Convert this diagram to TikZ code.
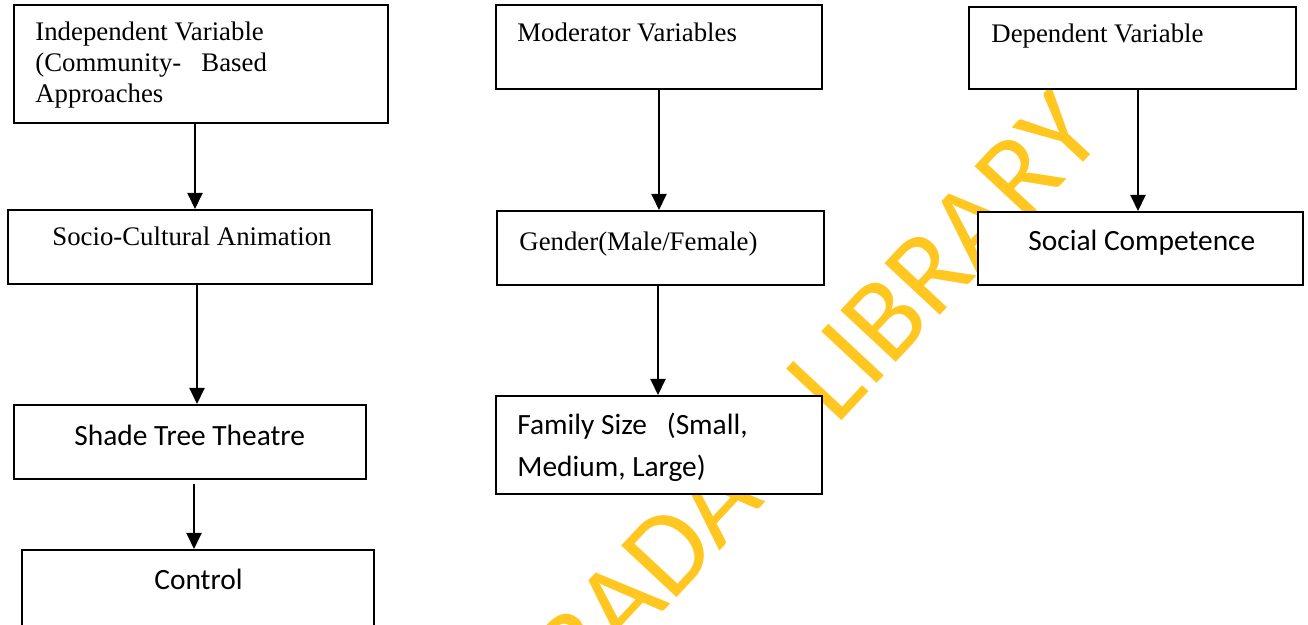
\documentclass[tikz,border=0pt]{standalone}
\usepackage{fontspec}
\setmainfont{Liberation Serif}
\newfontfamily\calibri{Carlito}
\usetikzlibrary{arrows.meta}
\definecolor{wmyellow}{HTML}{FFC720}
\tikzset{
  varbox/.style={draw, fill=white, line width=1pt, inner sep=0pt},
  serif/.style={anchor=base west, inner sep=0pt, align=left,
    font=\fontsize{13.4}{15.5}\selectfont},
  calib/.style={anchor=base west, inner sep=0pt, align=left,
    font=\calibri\fontsize{14.7}{21}\selectfont},
  arr/.style={line width=1pt, -{Triangle[width=7.5pt,length=8pt]}},
  wmark/.style={anchor=base west, inner sep=0pt, rotate=47, text=wmyellow,
    font=\calibri\fontsize{59}{59}\selectfont}
}
\begin{document}
\begin{tikzpicture}[x=0.5pt, y=-0.5pt]
    \clip (0,0) rectangle (1308,625);

    % Filigrane
    \node[wmark] (wm) at (836,427) {\llap{IBADAN }LIBRARY};

    % Colonne 1 : variable independante
    \node[varbox, minimum width=187pt, minimum height=59pt] (iv) at (201,64) {};
    \node[serif] (iv-t) at (35,103) {Independent Variable\\(Community-~~~Based\\Approaches};
    \node[varbox, minimum width=182pt, minimum height=37pt] (sca) at (190,247) {};
    \node[serif] (sca-t) at (52,246) {Socio-Cultural Animation};
    \node[varbox, minimum width=176pt, minimum height=37pt] (stt) at (190,442) {};
    \node[calib] (stt-t) at (74,446) {Shade Tree Theatre};
    \node[varbox, minimum width=176pt, minimum height=55pt] (ctrl) at (198,605) {};
    \node[calib] (ctrl-t) at (154,590) {Control};

    % Colonne 2 : moderateurs
    \node[varbox, minimum width=163pt, minimum height=42pt] (mod) at (659,47) {};
    \node[serif] (mod-t) at (517,42) {Moderator Variables};
    \node[varbox, minimum width=163.5pt, minimum height=37pt] (gen) at (660.5,248) {};
    \node[serif] (gen-t) at (519,251) {Gender(Male/Female)};
    \node[varbox, minimum width=163pt, minimum height=49pt] (fam) at (659,445) {};
    \node[calib] (fam-t) at (517,477) {Family Size~~~(Small,\\Medium, Large)};

    % Colonne 3 : variable dependante
    \node[varbox, minimum width=163.5pt, minimum height=41pt] (dep) at (1132.5,48) {};
    \node[serif] (dep-t) at (991,43) {Dependent Variable};
    \node[varbox, minimum width=162.5pt, minimum height=36.5pt] (soc) at (1140.5,248.5) {};
    \node[calib] (soc-t) at (1028,251) {Social Competence};

    % Fleches
    \draw[arr] ([xshift=-3pt]iv.south) -- ([xshift=-3pt]iv.south |- sca.north);
    \draw[arr] ([xshift=3.5pt]sca.south) -- ([xshift=3.5pt]sca.south |- stt.north);
    \draw[arr] ([xshift=2pt,yshift=-2pt]stt.south) -- ([xshift=2pt]stt.south |- ctrl.north);
    \draw[arr] (mod.south) -- (mod.south |- gen.north);
    \draw[arr] ([xshift=-1.25pt]gen.south) -- ([xshift=-1.25pt]gen.south |- fam.north);
    \draw[arr] ([xshift=2.75pt]dep.south) -- ([xshift=2.75pt]dep.south |- soc.north);
\end{tikzpicture}
\end{document}
